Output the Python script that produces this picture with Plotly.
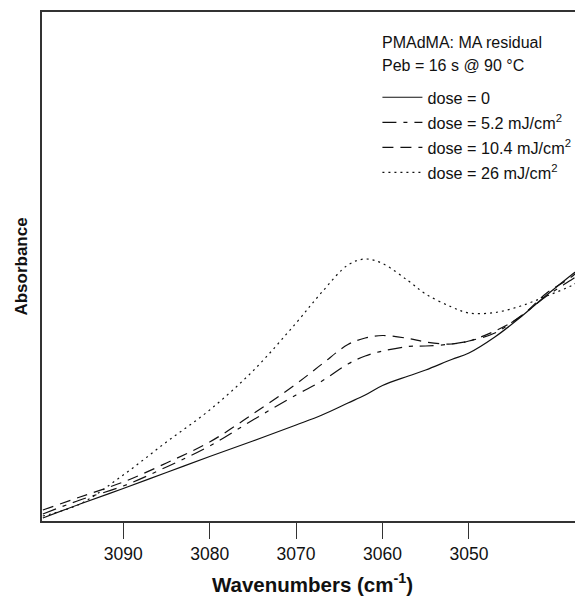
import plotly.graph_objects as go

wavenumbers = [3099.3, 3095, 3090, 3085, 3080, 3075, 3070, 3067, 3064, 3062,
               3060, 3057, 3055, 3052, 3050, 3047, 3044, 3041, 3038, 3036.8]

dose_0 = [0.006, 0.034, 0.065, 0.097, 0.129, 0.160, 0.192, 0.212, 0.236, 0.252,
          0.271, 0.290, 0.302, 0.323, 0.336, 0.368, 0.408, 0.452, 0.494, 0.510]
dose_5_2 = [0.014, 0.042, 0.070, 0.108, 0.150, 0.202, 0.252, 0.280, 0.314, 0.330,
            0.340, 0.349, 0.350, 0.354, 0.360, 0.376, 0.410, 0.450, 0.484, 0.498]
dose_10_4 = [0.022, 0.048, 0.078, 0.116, 0.158, 0.214, 0.274, 0.314, 0.353, 0.366,
             0.371, 0.365, 0.358, 0.354, 0.360, 0.380, 0.409, 0.456, 0.490, 0.512]
dose_26 = [0.010, 0.034, 0.092, 0.158, 0.222, 0.300, 0.396, 0.458, 0.512, 0.524,
           0.515, 0.480, 0.454, 0.428, 0.416, 0.417, 0.430, 0.450, 0.472, 0.486]

series_names = ["dose = 0", "dose = 5.2 mJ/cm<sup>2</sup>",
                "dose = 10.4 mJ/cm<sup>2</sup>", "dose = 26 mJ/cm<sup>2</sup>"]
series_values = [dose_0, dose_5_2, dose_10_4, dose_26]
series_dash = ["solid", "14px,7px,4px,7px", "11px,7px", "2px,4px"]

tick_vals = [3090, 3080, 3070, 3060, 3050]
tick_text = ["3090", "3080", "3070", "3060", "3050"]

FONT = "Liberation Sans, Arial, sans-serif"

fig = go.Figure()
for name, vals, dash in zip(series_names, series_values, series_dash):
    fig.add_trace(go.Scatter(
        x=wavenumbers, y=vals, mode="lines", name=name, legendgroup=name,
        line=dict(color="#111111", width=1.2, dash=dash, shape="spline", smoothing=1.0),
    ))

# page body has an 8px margin, so the figure is sized/offset to compensate
fig.update_layout(
    width=575, height=588,
    margin=dict(l=34, r=0, t=4, b=75),
    paper_bgcolor="white", plot_bgcolor="white",
    font=dict(family=FONT, color="#111111"),
    showlegend=True,
    legend=dict(x=0.620, y=0.866, xanchor="left", yanchor="top",
                font=dict(size=16.2, family=FONT), bgcolor="rgba(0,0,0,0)",
                tracegroupgap=1, itemwidth=40),
    xaxis=dict(range=[3099.4, 3036.8], showgrid=False, zeroline=False,
               automargin=False,
               showline=True, linecolor="#333333", linewidth=1.5, mirror=True,
               ticks="outside", ticklen=16, tickwidth=1, tickcolor="#333333",
               tickvals=tick_vals, ticktext=tick_text,
               tickfont=dict(size=17.5, family=FONT),
               title=dict(text="<b>Wavenumbers (cm<sup>-1</sup>)</b>",
                          font=dict(size=20.5, family=FONT), standoff=17)),
    yaxis=dict(range=[0, 1.018], showgrid=False, zeroline=False,
               automargin=False,
               showline=True, linecolor="#333333", linewidth=1.5,
               showticklabels=False, ticks="",
               title=dict(text="<b>Absorbance</b>", font=dict(size=17, family=FONT),
                          standoff=8)),
)

fig.add_annotation(text="PMAdMA: MA residual",
                   xref="paper", yref="paper", x=0.624, y=0.941,
                   xanchor="left", yanchor="middle", showarrow=False, align="left",
                   font=dict(size=16, family=FONT))
fig.add_annotation(text="Peb = 16 s @ 90 °C",
                   xref="paper", yref="paper", x=0.624, y=0.894,
                   xanchor="left", yanchor="middle", showarrow=False, align="left",
                   font=dict(size=16, family=FONT))

fig.write_html("out.html")
